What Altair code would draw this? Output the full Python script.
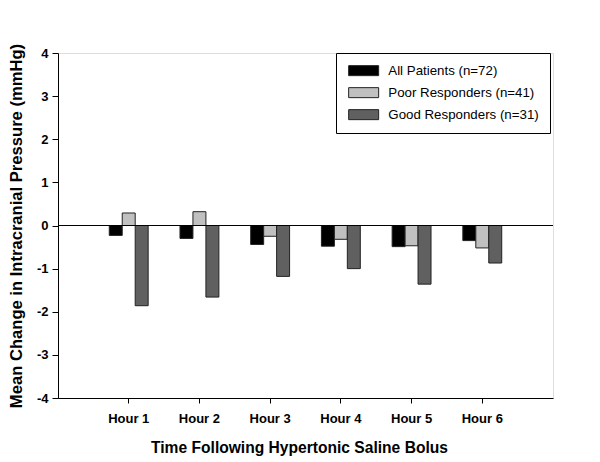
import altair as alt
import pandas as pd

hours = ["Hour 1", "Hour 2", "Hour 3", "Hour 4", "Hour 5", "Hour 6"]
series = ["All Patients (n=72)", "Poor Responders (n=41)", "Good Responders (n=31)"]
all_patients = [-0.23, -0.30, -0.44, -0.48, -0.49, -0.35]
poor_resp = [0.29, 0.32, -0.25, -0.32, -0.47, -0.52]
good_resp = [-1.86, -1.66, -1.18, -1.00, -1.36, -0.87]
colors = ["#000000", "#c0c0c0", "#606060"]
y_ticks = [-4, -3.5, -3, -2.5, -2, -1.5, -1, -0.5, 0, 0.5, 1, 1.5, 2, 2.5, 3, 3.5, 4]

rows = []
for s, vals in zip(series, [all_patients, poor_resp, good_resp]):
    for h, v in zip(hours, vals):
        rows.append({"hour": h, "series": s, "value": v})
df = pd.DataFrame(rows)

FONT = "Liberation Sans"

bars = alt.Chart(df).mark_bar(stroke="#222222", strokeWidth=1).encode(
    x=alt.X("hour:N", sort=hours,
            scale=alt.Scale(paddingInner=0.45, paddingOuter=0.725),
            axis=alt.Axis(title="Time Following Hypertonic Saline Bolus", labelAngle=0,
                          labelFont=FONT, labelFontSize=13, labelFontWeight="bold",
                          titleFont=FONT, titleFontSize=15.6, titleFontWeight="bold",
                          titlePadding=15, labelPadding=9, tickSize=5,
                          titleX=241, titleAlign="center",
                          domainColor="black", tickColor="black", labelColor="black",
                          titleColor="black")),
    xOffset=alt.XOffset("series:N", sort=series, scale=alt.Scale(paddingInner=0, paddingOuter=0)),
    y=alt.Y("value:Q", scale=alt.Scale(domain=[-4, 4], nice=False, zero=False),
            axis=alt.Axis(title="Mean Change in Intracranial Pressure (mmHg)",
                          values=y_ticks, grid=False,
                          labelExpr="datum.value % 1 === 0 ? toString(datum.value) : ''",
                          tickSize={"condition": {"test": "datum.value % 1 === 0", "value": 6}, "value": 3},
                          labelFont=FONT, labelFontSize=13, labelFontWeight="bold",
                          titleFont=FONT, titleFontSize=16.6, titleFontWeight="bold",
                          titlePadding=12, labelPadding=4,
                          domainColor="black", tickColor="black", labelColor="black",
                          titleColor="black")),
    color=alt.Color("series:N", sort=series,
                    scale=alt.Scale(domain=series, range=colors),
                    legend=alt.Legend(title=None, orient="none", legendX=278, legendY=0,
                                      strokeColor="black", fillColor="white",
                                      padding=11, rowPadding=7,
                                      symbolType="M-3,-1L3,-1L3,1L-3,1Z",
                                      symbolSize=100, symbolOffset=10, labelOffset=18,
                                      symbolStrokeColor="#222222",
                                      symbolStrokeWidth=1, symbolOpacity=1,
                                      labelFont=FONT, labelFontSize=13.3, labelColor="black",
                                      labelLimit=300)),
)

zero = alt.Chart(pd.DataFrame({"y": [0]})).mark_rule(color="black", strokeWidth=1).encode(
    y=alt.Y("y:Q")
)

chart = alt.layer(bars, zero).properties(
    width=495, height=345,
    padding={"left": 50, "top": 45, "right": 5, "bottom": 60},
    autosize=alt.AutoSizeParams(type="none"),
).configure_view(stroke="#333333", strokeWidth=1).configure(background="white")

chart.save("out.html", embed_options={"renderer": "svg", "actions": False})
